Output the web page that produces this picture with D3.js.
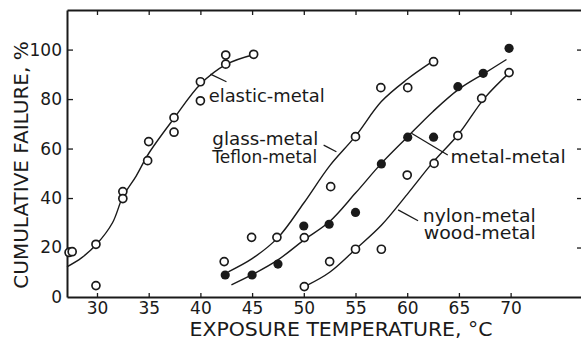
<!DOCTYPE html>
<html>
<head>
<meta charset="utf-8">
<script src="https://cdn.jsdelivr.net/npm/d3@7"></script>
<style>
  body { margin: 0; background: #fff; }
  svg { display: block; }
  text { font-family: "DejaVu Sans", sans-serif; fill: #1a1a1a; }
</style>
</head>
<body>
<svg id="chart" width="581" height="341"></svg>
<script>
// tick values
const xTicks = [30, 35, 40, 45, 50, 55, 60, 65, 70];
const yTicks = [0, 20, 40, 60, 80, 100];

// measured points, [temperature, % failed]
const elasticPts = [[27.3, 18], [27.6, 18.3], [29.9, 21.3], [29.9, 4.6], [32.5, 42.6], [32.5, 39.8],
  [35, 62.8], [34.9, 55.1], [37.45, 72.5], [37.45, 66.6], [40, 87], [40, 79.3],
  [42.45, 97.8], [42.45, 94.1], [45.15, 98.1]];
const glassPts = [[42.3, 14.3], [44.95, 24.1], [47.4, 24.1], [50.05, 24], [52.6, 44.6],
  [55, 64.8], [57.45, 84.6], [60.05, 84.6], [62.55, 95.1]];
const metalPts = [[42.4, 8.9], [45, 8.9], [47.5, 13.3], [50, 28.7], [52.45, 29.4], [55, 34.2],
  [57.5, 53.8], [60.05, 64.6], [62.55, 64.6], [64.9, 85], [67.35, 90.4], [69.85, 100.5]];
const nylonPts = [[50.05, 4.2], [52.5, 14.3], [55, 19.3], [57.5, 19.3], [60, 49.3], [62.6, 54],
  [64.9, 65.2], [67.2, 80.3], [69.85, 90.7]];

// fitted curves as drawn
const elasticCurve = [[27.1, 12.2], [28.5, 15.8], [30, 21.5], [31.5, 30], [32.5, 40.5], [33.8, 49],
  [35, 58], [37.5, 72.5], [40, 86], [42.5, 94], [45.2, 98]];
const glassCurve = [[42.7, 10.2], [45, 15.5], [47.5, 24], [50, 38], [52.5, 53], [55, 65],
  [57.5, 79], [60, 88], [62.2, 94.5]];
const metalCurve = [[43, 4.9], [45, 9], [47.5, 15], [50, 23], [52.5, 30.5], [55, 42], [57.5, 54],
  [60, 64.6], [62.5, 75], [65, 84], [67.5, 90.5], [69.6, 96]];
const nylonCurve = [[50.4, 4.9], [52.5, 10], [55, 19.3], [57.5, 29], [60, 41.5], [62.5, 54.5],
  [65, 66], [67.5, 80.5], [69.9, 90.7]];

// annotation text (width = measured text length) and leader lines
const labels = [
  { text: 'elastic-metal', x: 40.8, y: 78.8, w: 116 },
  { text: 'glass-metal', x: 41.15, y: 61.4, w: 106 },
  { text: 'Teflon-metal', x: 41.15, y: 54.3, w: 105 },
  { text: 'metal-metal', x: 64.2, y: 54.1, w: 115 },
  { text: 'nylon-metal', x: 61.5, y: 30.4, w: 113 },
  { text: 'wood-metal', x: 61.6, y: 23.3, w: 112 },
];
const leaders = [
  [[40.97, 90.1], [42.52, 87.0]],
  [[51.92, 61.4], [53.15, 58.7]],
  [[60.41, 66.2], [63.92, 57.4]],
  [[59.12, 35.2], [61.05, 30.8]],
];

const svg = d3.select('#chart');
const x = d3.scaleLinear().domain([27.1, 77]).range([67, 583]);
const y = d3.scaleLinear().domain([0, 116]).range([297, 10]);
const ink = '#1a1a1a';

function styleAxis(g, showText) {
  g.select('.domain').attr('stroke', ink).attr('stroke-width', 2);
  g.selectAll('.tick line').attr('stroke', ink).attr('stroke-width', 1.3);
  g.selectAll('.tick text').attr('font-size', 17).attr('fill', ink)
    .style('font-family', '"DejaVu Sans", sans-serif');
  if (!showText) g.selectAll('.tick text').remove();
}

svg.append('g')
  .attr('transform', `translate(0,${y(0)})`)
  .call(d3.axisBottom(x).tickValues(xTicks).tickSizeInner(-4).tickSizeOuter(0).tickPadding(5))
  .call((g) => styleAxis(g, true));

svg.append('g')
  .attr('transform', `translate(0,${y(116)})`)
  .call(d3.axisTop(x).tickValues(xTicks).tickSizeInner(-5).tickSizeOuter(0))
  .call((g) => styleAxis(g, false));

svg.append('g')
  .attr('transform', `translate(${x(27.1)},0)`)
  .call(d3.axisLeft(y).tickValues(yTicks).tickSizeInner(-6).tickSizeOuter(0).tickPadding(5))
  .call((g) => styleAxis(g, true))
  .call((g) => g.selectAll('.tick').filter((d) => d === 0).select('line').remove());

svg.append('g')
  .attr('transform', `translate(${x(77)},0)`)
  .call(d3.axisRight(y).tickValues(yTicks.slice(1)).tickSizeInner(-6).tickSizeOuter(0))
  .call((g) => styleAxis(g, false));

// axis titles
svg.append('text')
  .attr('x', 341)
  .attr('y', 336)
  .attr('text-anchor', 'middle')
  .attr('font-size', 19)
  .attr('textLength', 303)
  .attr('lengthAdjust', 'spacingAndGlyphs')
  .text('EXPOSURE TEMPERATURE, °C');

svg.append('text')
  .attr('transform', 'translate(28,165) rotate(-90)')
  .attr('text-anchor', 'middle')
  .attr('font-size', 20)
  .text('CUMULATIVE FAILURE, %');

// curves
const line = d3.line()
  .x((d) => x(d[0]))
  .y((d) => y(d[1]))
  .curve(d3.curveCatmullRom.alpha(0.5));

[elasticCurve, glassCurve, metalCurve, nylonCurve].forEach((c) => {
  svg.append('path')
    .attr('d', line(c))
    .attr('fill', 'none')
    .attr('stroke', ink)
    .attr('stroke-width', 1.4);
});

svg.append('g')
  .selectAll('line')
  .data(leaders)
  .enter()
  .append('line')
  .attr('x1', (d) => x(d[0][0]))
  .attr('y1', (d) => y(d[0][1]))
  .attr('x2', (d) => x(d[1][0]))
  .attr('y2', (d) => y(d[1][1]))
  .attr('stroke', ink)
  .attr('stroke-width', 1.3);

// points
[elasticPts, glassPts, nylonPts].forEach((pts) => {
  svg.append('g')
    .selectAll('circle')
    .data(pts)
    .enter()
    .append('circle')
    .attr('cx', (d) => x(d[0]))
    .attr('cy', (d) => y(d[1]))
    .attr('r', 4)
    .attr('fill', '#fff')
    .attr('stroke', ink)
    .attr('stroke-width', 1.7);
});

svg.append('g')
  .selectAll('circle')
  .data(metalPts)
  .enter()
  .append('circle')
  .attr('cx', (d) => x(d[0]))
  .attr('cy', (d) => y(d[1]))
  .attr('r', 4.6)
  .attr('fill', ink);

svg.append('g')
  .selectAll('text')
  .data(labels)
  .enter()
  .append('text')
  .attr('x', (d) => x(d.x))
  .attr('y', (d) => y(d.y))
  .attr('font-size', 17)
  .attr('textLength', (d) => d.w)
  .attr('lengthAdjust', 'spacingAndGlyphs')
  .text((d) => d.text);
</script>
</body>
</html>
